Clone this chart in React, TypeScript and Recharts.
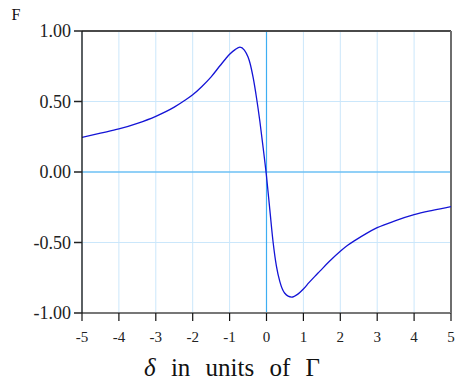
import React from "react";
import {
  LineChart,
  Line,
  XAxis,
  YAxis,
  CartesianGrid,
  ReferenceLine,
  Label,
} from "recharts";

const deltaValues = [
  -5, -4.5, -4, -3.5, -3, -2.5, -2.2, -2, -1.75, -1.5, -1.25, -1.1, -1, -0.85,
  -0.72, -0.6, -0.5, -0.45, -0.36, -0.27, -0.18, -0.09, 0, 0.09, 0.18, 0.27,
  0.36, 0.49, 0.68, 0.85, 1.0, 1.15, 1.31, 1.44, 1.7, 2, 2.2, 2.4, 2.7, 3, 3.5,
  4, 4.5, 5,
];
const forceValues = [
  0.245, 0.275, 0.305, 0.345, 0.395, 0.46, 0.51, 0.548, 0.607, 0.675, 0.757,
  0.805, 0.835, 0.868, 0.885, 0.865, 0.815, 0.775, 0.667, 0.525, 0.36, 0.17,
  -0.03, -0.267, -0.5, -0.67, -0.776, -0.858, -0.887, -0.866, -0.83, -0.785,
  -0.74, -0.705, -0.635, -0.562, -0.52, -0.485, -0.437, -0.395, -0.345, -0.303,
  -0.272, -0.245,
];
const xTicks = [-5, -4, -3, -2, -1, 0, 1, 2, 3, 4, 5];
const yTicks = [-1, -0.5, 0, 0.5, 1];

const data = deltaValues.map((d, i) => ({ delta: d, force: forceValues[i] }));

const FONT = "'Liberation Serif', 'Times New Roman', Tinos, 'DejaVu Serif', serif";

const XLabel = (props: any) => {
  const vb = props.viewBox || {};
  const cx = vb.x + vb.width / 2 - 34.5;
  return (
    <text
      x={cx}
      y={376}
      textAnchor="middle"
      fontFamily={FONT}
      fontSize={25}
      style={{ wordSpacing: 9 }}
      fill="#111"
    >
      <tspan fontStyle="italic">δ</tspan> in units of Γ
    </text>
  );
};

const YLabel = (props: any) => {
  const vb = props.viewBox || {};
  return (
    <text x={vb.x + 11.5} y={vb.y - 11.5} fontFamily={FONT} fontSize={16} fill="#111">
      F
    </text>
  );
};

export default function App() {
  return (
    <div
      style={{
        position: "absolute",
        left: 0,
        top: 0,
        width: 456,
        height: 383,
      }}
    >
      <LineChart
        width={456}
        height={383}
        data={data}
        margin={{ top: 31, right: 5, bottom: 0, left: 0 }}
      >
        <CartesianGrid stroke="#cbe7fb" strokeWidth={1} />
        <ReferenceLine x={0} stroke="#3eaef2" strokeWidth={1.2} />
        <ReferenceLine y={0} stroke="#3eaef2" strokeWidth={1.2} />
        <ReferenceLine y={1} stroke="#4a4a4a" strokeWidth={2} />
        <ReferenceLine x={5} stroke="#6e6e6e" strokeWidth={2} />
        <XAxis
          dataKey="delta"
          type="number"
          domain={[-5, 5]}
          ticks={xTicks}
          allowDataOverflow
          height={70}
          stroke="#777"
          strokeWidth={2}
          tickSize={8}
          tickMargin={10}
          tickLine={{ stroke: "#111", strokeWidth: 1.2 }}
          tick={{ fill: "#222", fontSize: 15, fontFamily: FONT }}
          interval={0}
        >
          <Label content={XLabel} />
        </XAxis>
        <YAxis
          type="number"
          domain={[-1, 1]}
          ticks={yTicks}
          allowDataOverflow
          width={82}
          stroke="#111"
          strokeWidth={1.3}
          tickSize={8}
          tickMargin={3}
          tickLine={{ stroke: "#222", strokeWidth: 1.5 }}
          tick={{ fill: "#222", fontSize: 18, fontFamily: FONT }}
          tickFormatter={(v: number) => v.toFixed(2)}
          interval={0}
        >
          <Label content={YLabel} />
        </YAxis>
        <Line
          type="monotone"
          dataKey="force"
          stroke="#1414d6"
          strokeWidth={1.3}
          dot={false}
          isAnimationActive={false}
        />
      </LineChart>
    </div>
  );
}
